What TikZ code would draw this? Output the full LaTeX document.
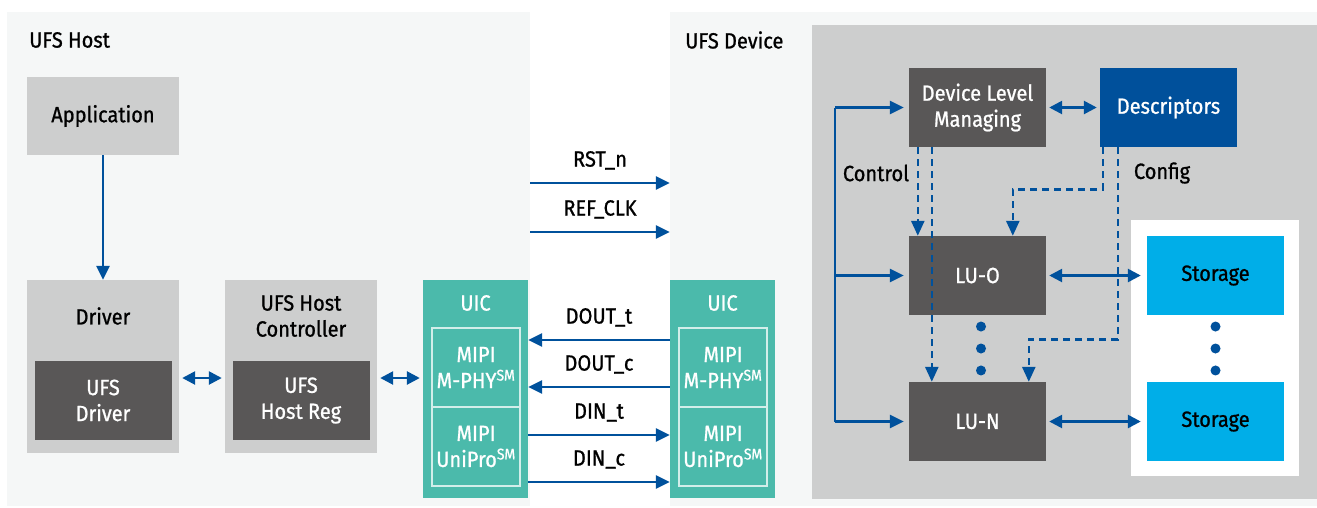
\documentclass[tikz,border=0pt]{standalone}
\usepackage{fontspec}
\setmainfont{Fira Sans}[FakeStretch=0.91, FakeBold=0.9]
\usetikzlibrary{arrows.meta, calc}
\definecolor{panelbg}{HTML}{F5F7F7}
\definecolor{boxgrey}{HTML}{CDCECE}
\definecolor{darkfill}{HTML}{595757}
\definecolor{uicteal}{HTML}{4BBAAB}
\definecolor{linkblue}{HTML}{00519C}
\definecolor{descblue}{HTML}{00509B}
\definecolor{storecyan}{HTML}{00AEE8}
\newcommand{\smark}{\textsuperscript{SM}}

\begin{document}
\begin{tikzpicture}[x=1pt, y=-1pt,
		every node/.style={font=\fontsize{22}{26}\selectfont, inner sep=0pt, align=center},
		greybox/.style={fill=boxgrey, minimum width=152, minimum height=#1},
		darkbox/.style={fill=darkfill, text=white, minimum width=137, minimum height=79},
		uicbox/.style={fill=uicteal, minimum width=105, minimum height=218},
		phybox/.style={draw=white!75!uicteal, line width=1.2, text=white, minimum width=88, minimum height=79},
		link/.style={draw=linkblue, line width=2.6, -{Triangle[length=14pt, width=13pt]}},
		duo/.style={link, {Triangle[length=13pt, width=13pt]}-{Triangle[length=13pt, width=13pt]}, shorten <=3pt, shorten >=3pt},
		dashlink/.style={link, dash pattern=on 7pt off 5pt, -{Triangle[length=15pt, width=13pt]}}]
		\useasboundingbox (0,0) rectangle (1317,507);

		\node[fill=panelbg, minimum width=523, minimum height=494] (host) at (268.5,259) {};
		\node[fill=panelbg, minimum width=647, minimum height=494] (dev) at (993.5,259) {};
		\node[fill=boxgrey, minimum width=505, minimum height=474] (core) at (1064.5,262) {};
		\node[fill=white, minimum width=168, minimum height=256] (pool) at (1215,348) {};
		\node[anchor=west] (hosttitle) at (29,40) {UFS Host};
		\node[anchor=west] (devtitle) at (685,40) {UFS Device};

		\node[greybox=78] (app) at (103,116) {Application};
		\node[greybox=173] (drv) at (103,366.5) {};
		\node (drvlbl) at (103,316) {Driver};
		\node[darkbox] (ufsdrv) at (103,400.5) {UFS\\Driver};
		\node[greybox=173] (hc) at (301,366.5) {};
		\node (hclbl) at (301,316) {UFS Host\\Controller};
		\node[darkbox] (hreg) at (301,400.5) {UFS\\Host Reg};

		\node[uicbox] (huic) at (475.5,389) {};
		\node[text=white] (huiclbl) at (475.5,303) {UIC};
		\node[phybox] (hphy) at (476,367.5) {MIPI\\M-PHY\smark};
		\node[phybox] (hpro) at (476,446.5) {MIPI\\UniPro\smark};
		\node[uicbox] (duic) at (722.5,389) {};
		\node[text=white] (duiclbl) at (722.5,303) {UIC};
		\node[phybox] (dphy) at (723,367.5) {MIPI\\M-PHY\smark};
		\node[phybox] (dpro) at (723,446.5) {MIPI\\UniPro\smark};

		\draw[link] (app) -- (drv);
		\draw[duo] ([yshift=-11.5pt]drv.east) -- ([yshift=-11.5pt]hc.west);
		\draw[duo] ([yshift=-11.5pt]hc.east) -- ([yshift=11pt]huic.west);

		\draw[link] ([yshift=76pt]host.east) -- node[above=12pt] {RST\_n} ([yshift=76pt]dev.west);
		\draw[link] ([yshift=27pt]host.east) -- node[above=12pt] {REF\_CLK} ([yshift=27pt]dev.west);
		\draw[link] ([yshift=49pt]duic.west) -- node[above=12pt] {DOUT\_t} ([yshift=49pt]huic.east);
		\draw[link] ([yshift=2pt]duic.west) -- node[above=12pt] {DOUT\_c} ([yshift=2pt]huic.east);
		\draw[link] ([yshift=-46pt]huic.east) -- node[above=12pt] {DIN\_t} ([yshift=-46pt]duic.west);
		\draw[link] ([yshift=-93pt]huic.east) -- node[above=12pt] {DIN\_c} ([yshift=-93pt]duic.west);

		\node[darkbox] (dlm) at (977.5,107.5) {Device Level\\Managing};
		\node[darkbox, fill=descblue] (desc) at (1168.5,107.5) {Descriptors};
		\node[darkbox] (luo) at (977.5,275.5) {LU-O};
		\node[darkbox] (lun) at (977.5,421.5) {LU-N};
		\node[darkbox, fill=storecyan, text=black] (st0) at (1215.5,275.5) {Storage};
		\node[darkbox, fill=storecyan, text=black] (stn) at (1215.5,421.5) {Storage};
		\node (ctllbl) at (876,173) {Control};
		\node (cfglbl) at (1162,173) {Config};

		\coordinate (bus) at (835,275.5);
		\draw[draw=linkblue, line width=2.6] (bus |- dlm.west) -- (bus |- lun.west);
		\foreach \t in {dlm, luo, lun}
			\draw[link, shorten >=5pt] (bus |- \t.west) -- (\t.west);
		\draw[duo] (dlm) -- (desc);
		\draw[duo, shorten >=6pt] (luo) -- (st0);
		\draw[duo, shorten >=6pt] (lun) -- (stn);

		\draw[dashlink] ([xshift=9pt]dlm.south west) -- ([xshift=9pt]luo.north west);
		\draw[dashlink] ([xshift=23pt]dlm.south west) -- ([xshift=23pt]lun.north west);
		\draw[dashlink] ([xshift=3pt]desc.south west) -- ++(0,42) -| ([xshift=104pt]luo.north west);
		\draw[dashlink] ([xshift=18pt]desc.south west) -- ++(0,192) -| ([xshift=120pt]lun.north west);

		\foreach \f in {0.17, 0.5, 0.83} {
			\fill[linkblue] ([xshift=3.5pt]$(luo.south)!\f!(lun.north)$) circle (5pt);
			\fill[linkblue] ($(st0.south)!\f!(stn.north)$) circle (5pt);
		}
	\end{tikzpicture}
\end{document}
